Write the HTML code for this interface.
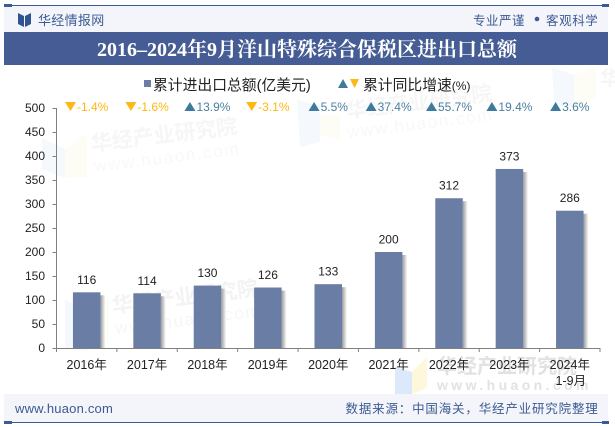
<!DOCTYPE html>
<html>
<head>
<meta charset="utf-8">
<style>
html,body{margin:0;padding:0;background:#fff;width:615px;height:427px;overflow:hidden}
svg{display:block}
text{font-family:"Liberation Sans","Noto Sans CJK SC",sans-serif}
</style>
</head>
<body>
<svg id="chart" xmlns="http://www.w3.org/2000/svg" width="615" height="427" viewBox="0 0 615 427">
  <defs>
    <linearGradient id="barShadow" x1="0" x2="1" y1="0" y2="0">
      <stop offset="0" stop-color="#9a9a9a"/>
      <stop offset="1" stop-color="#ffffff"/>
    </linearGradient>
  </defs>
  <rect width="615" height="427" fill="#fff"/>

  <g>
    <g>
      <path d="M42 138l23 11v29l-23-9z" fill="#f5f8fd"/>
      <path d="M65 149l22-16v44l-22 1z" fill="#fefdf5"/>
      <text x="92" y="151" transform="rotate(-7 92 151)" font-size="21" font-weight="bold" fill="#f6f6f6">华经产业研究院</text>
      <text x="95" y="172" transform="rotate(-7 95 172)" font-size="17" letter-spacing="1.7" fill="#f8f8f8">www.huaon.com</text>
    </g>
    <g>
      <path d="M297 100l23 5v37l-20 5z" fill="#f5f8fd"/>
      <path d="M320 115l20 0v25l-20-5z" fill="#fefdf5"/>
      <text x="347" y="118" transform="rotate(-7 347 118)" font-size="21" font-weight="bold" fill="#f6f6f6">华经产业研究院</text>
      <text x="348" y="138" transform="rotate(-7 348 138)" font-size="17" letter-spacing="1.7" fill="#f8f8f8">www.huaon.com</text>
    </g>
    <g>
      <path d="M552 68l22 7v32l-20-4z" fill="#f5f8fd"/>
      <path d="M574 75l22-9v32l-22 9z" fill="#fefdf5"/>
      <text x="600" y="85" font-size="20" font-weight="bold" fill="#f6f6f6">华</text>
    </g>
    <g>
      <path d="M65 300l22 11v40l-22-2z" fill="#f5f8fd"/>
      <path d="M87 311l22-14v45l-22 9z" fill="#fefdf5"/>
      <text x="113" y="313" transform="rotate(-7 113 313)" font-size="21" font-weight="bold" fill="#f3f3f3">华经产业研究院</text>
      <text x="116" y="334" transform="rotate(-7 116 334)" font-size="17" letter-spacing="1.7" fill="#f6f6f6">www.huaon.com</text>
    </g>
    <g>
      <path d="M395 367l17 5v22h-17z" fill="#dce9fb"/>
      <path d="M412 372l15-15v31l-15 6z" fill="#fdf8dc"/>
      <text x="437" y="373" font-size="20" font-weight="bold" fill="#e2e2e2">华经产业研究院</text>
      <text x="437" y="390" font-size="14" font-weight="bold" letter-spacing="3.400" fill="#e2e2e2">www.huaon.com</text>
    </g>
  </g>

  <g>
    <rect x="4" y="6" width="604" height="26" fill="#f3f5fa"/>
    <rect x="4" y="5" width="605" height="1" fill="#3c5a93"/>
    <rect x="4" y="4" width="8" height="3" fill="#3c5a93"/>
    <rect x="602" y="4" width="7" height="3" fill="#3c5a93"/>
    <path d="M18 13l6 3v11l-6-3zM31 13l-6 3v11l6-3z" fill="#2f5490"/>
    <text x="38" y="25" font-size="13" letter-spacing="0.3" fill="#3c5a93">华经情报网</text>
    <text x="473" y="25" font-size="12.5" letter-spacing="0.5" fill="#3c5a93">专业严谨</text>
    <circle cx="537" cy="19" r="2.3" fill="#3c5a93"/>
    <text x="546" y="25" font-size="12.5" letter-spacing="0.6" fill="#3c5a93">客观科学</text>
    <rect x="4" y="32" width="604" height="33" fill="#455d94"/>
    <text x="307" y="56" text-anchor="middle" font-size="20" font-weight="bold" fill="#fff" style='font-family:"Liberation Serif","Noto Serif CJK SC",serif'>2016–2024年9月洋山特殊综合保税区进出口总额</text>
  </g>

  <g>
    <rect x="144" y="80" width="7" height="7" fill="#6a7da4"/>
    <text x="153" y="90" font-size="14.8" fill="#222">累计进出口总额(亿美元)</text>
    <path d="M338 88l5-9 5 9z" fill="#3d7a9c"/>
    <path d="M350 79h9l-4.500 9z" fill="#fdb813"/>
    <text x="363" y="90" font-size="14.8" fill="#222">累计同比增速<tspan font-size="12">(%)</tspan></text>
  </g>

  <g id="yAxis"></g>
  <g id="xAxis"></g>
  <g id="bars"></g>
  <g id="growth"></g>

  <g>
    <rect x="4" y="394" width="604" height="28" fill="#f3f5fa"/>
    <rect x="4" y="422" width="605" height="1" fill="#3c5a93"/>
    <rect x="4" y="421" width="8" height="3" fill="#3c5a93"/>
    <rect x="602" y="421" width="7" height="3" fill="#3c5a93"/>
    <text x="15" y="413" font-size="13" letter-spacing="0.2" fill="#3c5a93">www.huaon.com</text>
    <text x="345.500" y="413" font-size="12.500" letter-spacing="0.82" fill="#3c5a93">数据来源：中国海关，华经产业研究院整理</text>
  </g>
</svg>
<script>
const categories = ["2016年","2017年","2018年","2019年","2020年","2021年","2022年","2023年","2024年"];
const categorySubLabels = ["","","","","","","","","1-9月"];
const totals = [116,114,130,126,133,200,312,373,286];
const growthRates = [-1.4,-1.6,13.9,-3.1,5.5,37.4,55.7,19.4,3.6];
const yTicks = [0,50,100,150,200,250,300,350,400,450,500];

const NS = "http://www.w3.org/2000/svg";
const plotLeft = 56.5, plotRight = 600, plotTop = 108, plotBottom = 348, yMax = 500;
const bandWidth = (plotRight - plotLeft) / categories.length;
const barWidth = 27.5;
const xScale = i => plotLeft + bandWidth * (i + 0.5);
const yScale = v => plotBottom - (v / yMax) * (plotBottom - plotTop);

function make(tag, attrs, parent, content) {
  const el = document.createElementNS(NS, tag);
  for (const k in attrs) el.setAttribute(k, attrs[k]);
  if (content !== undefined) el.textContent = content;
  parent.appendChild(el);
  return el;
}

const yAxis = document.getElementById("yAxis");
const xAxis = document.getElementById("xAxis");
const barsLayer = document.getElementById("bars");
const growthLayer = document.getElementById("growth");

const yLine = make("line", {x1: plotLeft, x2: plotLeft, y1: plotTop, y2: plotBottom, stroke: "#808080", "stroke-width": 1}, yAxis);



yTicks.forEach(v => {
  const y = Math.round(yScale(v)) + 0.5;
  const tick = make("line", {x1: plotLeft - 4, x2: plotLeft, y1: y, y2: y, stroke: "#808080", "stroke-width": 1}, yAxis);
  
  
  const label = make("text", {x: 45, y: y + 3.500, "text-anchor": "end", "font-size": 12, fill: "#222"}, yAxis, v);
  
  
});

const xLine = make("line", {x1: plotLeft, x2: plotRight, y1: plotBottom + 0.5, y2: plotBottom + 0.5, stroke: "#808080", "stroke-width": 1}, xAxis);



for (let i = 0; i <= categories.length; i++) {
  const x = plotLeft + bandWidth * i;
  const tick = make("line", {x1: x, x2: x, y1: plotBottom, y2: plotBottom + 4, stroke: "#808080", "stroke-width": 1}, xAxis);
  
  
}

categories.forEach((c, i) => {
  const label = make("text", {x: xScale(i), y: 369, "text-anchor": "middle", "font-size": 12.500, fill: "#222"}, xAxis, c);
  
  
  if (categorySubLabels[i]) {
    const sub = make("text", {x: xScale(i) + 1, y: 385, "text-anchor": "middle", "font-size": 12.500, fill: "#222"}, xAxis, categorySubLabels[i]);
    
    
  }
});

totals.forEach((v, i) => {
  const cx = xScale(i);
  const top = yScale(v);
  const shadow = make("rect", {x: cx + barWidth / 2, y: top + 3, width: 5, height: plotBottom - top - 3, fill: "url(#barShadow)"}, barsLayer);
  
  
  const bar = make("rect", {x: cx - barWidth / 2, y: top, width: barWidth, height: plotBottom - top, fill: "#6a7da4"}, barsLayer);
  
  
  const value = make("text", {x: cx, y: top - 8.500, "text-anchor": "middle", "font-size": 12, fill: "#222"}, barsLayer, v);
  
  
});

growthRates.forEach((r, i) => {
  const up = r >= 0;
  const color = up ? "#3d7a9c" : "#fdb813";
  const label = make("text", {y: 111, "font-size": 12, fill: up ? "#4a7f9f" : "#fdb813"}, growthLayer, r.toFixed(1) + "%");
  
  
  const textWidth = label.getComputedTextLength();
  const start = xScale(i) - (textWidth + 12) / 2;
  label.setAttribute("x", start + 12);
  const tx = start + 5.5;
  const d = up
    ? `M${tx - 5.5} 111 L${tx + 5.5} 111 L${tx} 102 Z`
    : `M${tx - 5.5} 102 L${tx + 5.5} 102 L${tx} 111 Z`;
  const tri = make("path", {d: d, fill: color}, growthLayer);
  
  
});
</script>
</body>
</html>
